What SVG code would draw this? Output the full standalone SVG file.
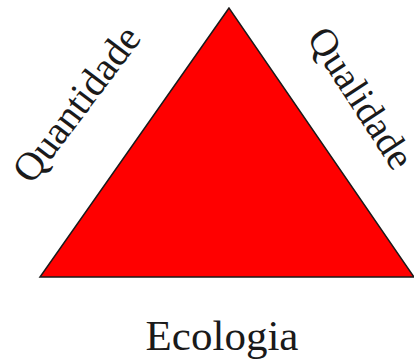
<svg xmlns="http://www.w3.org/2000/svg" width="414" height="361" viewBox="0 0 414 361">
<style>
.t{font-family:"Liberation Serif","Times New Roman",serif;fill:#1a1a1a;text-anchor:middle}
</style>
<rect width="414" height="361" fill="#ffffff"/>
<g id="triangle">
<polygon points="229,8 40,277 414,277" fill="#ff0000" stroke="#1a1a1a" stroke-width="1.5" stroke-linejoin="miter"/>
</g>
<g id="label-quantidade">
<text class="t" font-size="40" transform="translate(87,112) rotate(-53)">Quantidade</text>
</g>
<g id="label-qualidade">
<text class="t" font-size="39" transform="translate(350,105) rotate(57)">Qualidade</text>
</g>
<g id="label-ecologia">
<text class="t" font-size="43" x="222" y="350">Ecologia</text>
</g>
</svg>
